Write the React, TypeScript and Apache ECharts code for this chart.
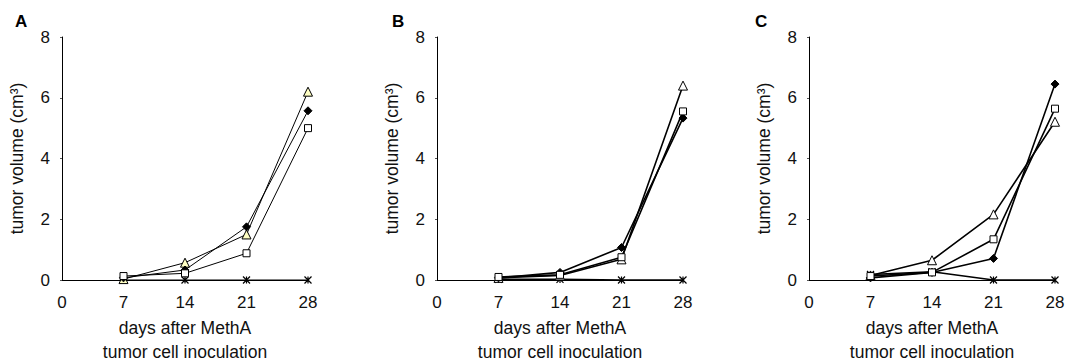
import React, { useEffect, useRef } from "react";
import * as echarts from "echarts";

const days = [7, 14, 21, 28];
const xTicks = [0, 7, 14, 21, 28];
const yTicks = [0, 2, 4, 6, 8];
const panelLabels = ["A", "B", "C"];

const triA = [0.03, 0.57, 1.5, 6.2];
const diaA = [0.07, 0.33, 1.75, 5.57];
const sqA = [0.13, 0.22, 0.88, 5.0];
const astA = [0, 0, 0, 0];

const triB = [0.07, 0.15, 0.68, 6.4];
const diaB = [0.07, 0.25, 1.07, 5.33];
const sqB = [0.1, 0.17, 0.75, 5.55];
const astB = [0.02, 0.02, 0, 0];

const triC = [0.15, 0.65, 2.16, 5.21];
const diaC = [0.07, 0.25, 0.71, 6.45];
const sqC = [0.13, 0.25, 1.34, 5.64];
const astC = [0.18, 0.27, 0, 0];

const panels = [
  { tri: triA, dia: diaA, sq: sqA, ast: astA, triFill: "#ffffc4", lw: 1 },
  { tri: triB, dia: diaB, sq: sqB, ast: astB, triFill: "#ffffff", lw: 1.6 },
  { tri: triC, dia: diaC, sq: sqC, ast: astC, triFill: "#ffffff", lw: 1.6 },
];

const gridLefts = [62, 437, 809];
const FONT = "Liberation Sans, Arial, sans-serif";
const ASTERISK = "path://M0,0L10,10M10,0L0,10M5,0L5,10";

export default function App() {
  const ref = useRef<HTMLDivElement>(null);
  useEffect(() => {
    if (!ref.current) return;
    const chart = echarts.init(ref.current, undefined, { renderer: "svg" });
    const grids: any[] = [];
    const xAxes: any[] = [];
    const yAxes: any[] = [];
    const series: any[] = [];
    const graphics: any[] = [];
    panels.forEach((p, i) => {
      grids.push({
        left: gridLefts[i],
        top: 37,
        width: 246,
        height: 243,
        containLabel: false,
        outerBoundsMode: "none",
      });
      xAxes.push({
        type: "value",
        gridIndex: i,
        min: 0,
        max: 28,
        interval: 7,
        axisLine: { onZero: false, lineStyle: { color: "#000", width: 1 } },
        axisTick: { show: false },
        splitLine: { show: false },
        axisLabel: {
          margin: 14,
          fontSize: 17,
          color: "#111",
          fontFamily: FONT,
          formatter: (v: number) => (xTicks.includes(v) ? String(v) : ""),
        },
        name: "days after MethA\ntumor cell inoculation",
        nameLocation: "middle",
        nameGap: 34,
        nameTextStyle: { fontSize: 17.5, lineHeight: 24, color: "#111", fontFamily: FONT },
      });
      yAxes.push({
        type: "value",
        gridIndex: i,
        min: 0,
        max: 8,
        interval: 2,
        axisLine: { show: true, lineStyle: { color: "#000", width: 1 } },
        axisTick: { show: true, length: 2, lineStyle: { color: "#555" } },
        splitLine: { show: false },
        axisLabel: {
          margin: 12,
          fontSize: 17,
          color: "#111",
          fontFamily: FONT,
          formatter: (v: number) => (yTicks.includes(v) ? String(v) : ""),
        },
        name: "tumor volume (cm³)",
        nameLocation: "middle",
        nameGap: 36,
        nameTextStyle: { fontSize: 17.5, color: "#111", fontFamily: FONT },
      });
      const mk = (vals: number[]) => vals.map((v, k) => [days[k], v]);
      const base = {
        type: "line",
        xAxisIndex: i,
        yAxisIndex: i,
        lineStyle: { color: "#000", width: p.lw },
        showAllSymbol: true,
      };
      series.push({
        ...base,
        name: "ast" + i,
        data: mk(p.ast),
        symbol: ASTERISK,
        symbolSize: 7,
        itemStyle: { color: "none", borderColor: "#000", borderWidth: 1.2 },
        z: 2,
      });
      series.push({
        ...base,
        name: "tri" + i,
        data: mk(p.tri),
        symbol: "triangle",
        symbolSize: 9,
        itemStyle: { color: p.triFill, borderColor: "#000", borderWidth: 1 },
        z: 3,
      });
      series.push({
        ...base,
        name: "dia" + i,
        data: mk(p.dia),
        symbol: "diamond",
        symbolSize: 8,
        itemStyle: { color: "#000", borderColor: "#000", borderWidth: 1 },
        z: 4,
      });
      series.push({
        ...base,
        name: "sq" + i,
        data: mk(p.sq),
        symbol: "rect",
        symbolSize: 7,
        itemStyle: { color: "#fff", borderColor: "#000", borderWidth: 1 },
        z: 5,
      });
    });
    const labelX = [15, 392, 755];
    panelLabels.forEach((t, i) => {
      graphics.push({
        type: "text",
        left: labelX[i],
        top: 13,
        style: { text: t, fontSize: 17, fontWeight: "bold", fill: "#000", fontFamily: FONT },
      });
    });
    chart.setOption({
      animation: false,
      backgroundColor: "#fff",
      grid: grids,
      xAxis: xAxes,
      yAxis: yAxes,
      series,
      graphic: graphics,
    });
    return () => chart.dispose();
  }, []);
  return (
    <div
      ref={ref}
      style={{ position: "fixed", left: 0, top: 0, width: 1067, height: 361 }}
    />
  );
}
